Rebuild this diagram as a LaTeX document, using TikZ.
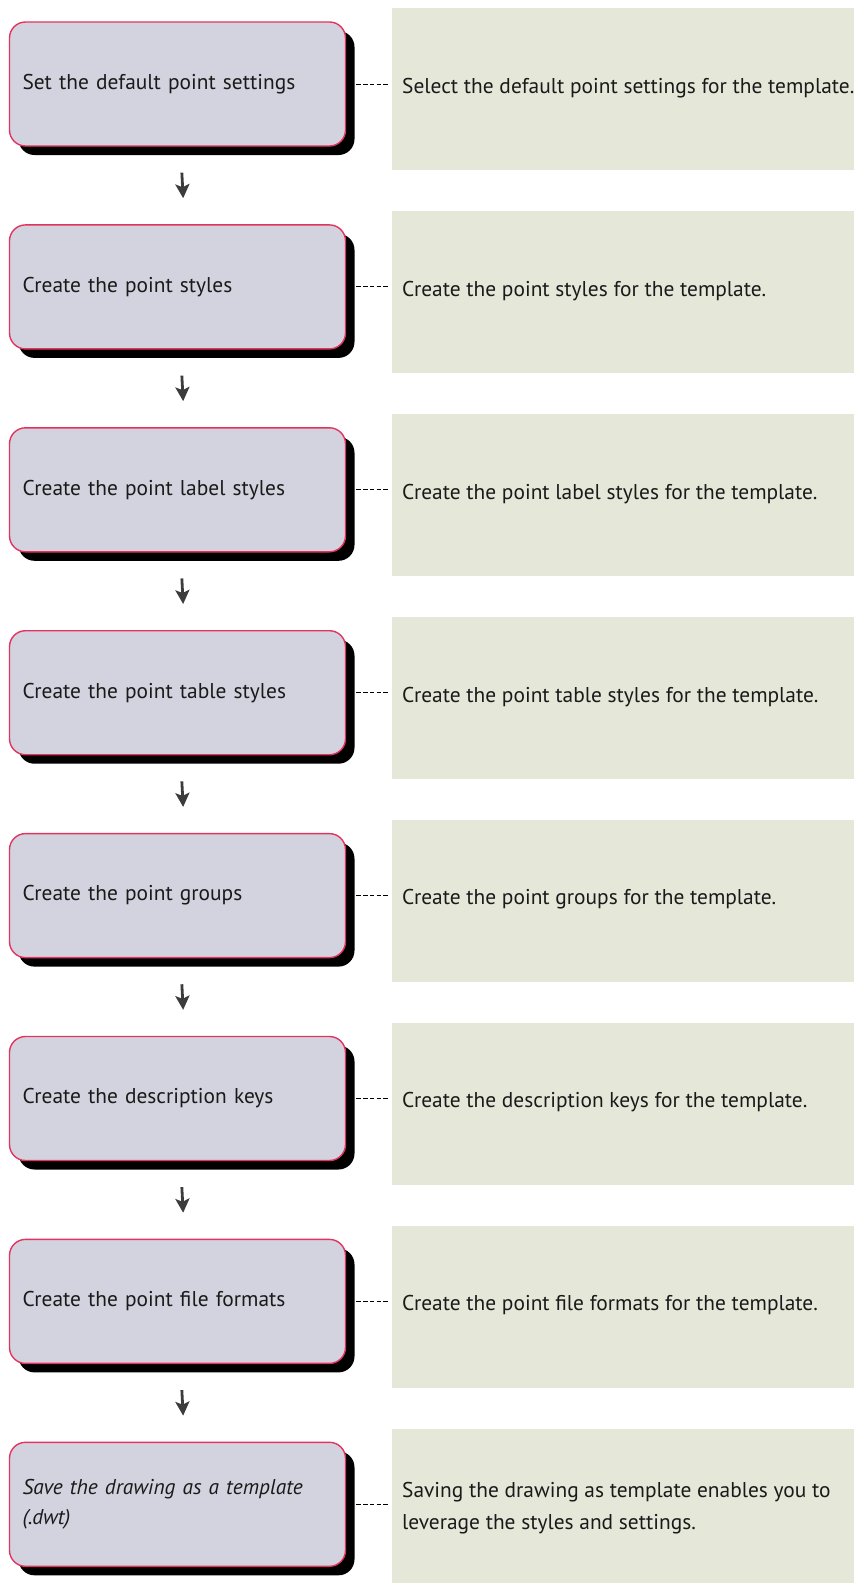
\documentclass[tikz,border=0pt]{standalone}
\usepackage{fontspec}
\setmainfont{PT Sans}
\usetikzlibrary{arrows.meta,shadows}
\definecolor{boxfill}{HTML}{D3D3DF}
\definecolor{boxline}{HTML}{E2345E}
\definecolor{panelfill}{HTML}{E5E8D9}
\definecolor{arrowcol}{HTML}{3C3C3C}
\definecolor{textcol}{HTML}{1A1A1A}
\begin{document}
\begin{tikzpicture}[x=1pt,y=-1pt,
  stepbox/.style={draw=boxline, line width=1.4pt, fill=boxfill, rounded corners=16pt,
    minimum width=336pt, minimum height=124pt, text width=310pt, inner xsep=13pt,
    align=left, font=\fontsize{21.4}{29.5}\selectfont, text=textcol,
    general shadow={fill=black, shadow xshift=9pt, shadow yshift=-9pt}},
  panel/.style={fill=panelfill, minimum width=462pt, minimum height=162pt, inner sep=0pt, anchor=north west},
  desc/.style={anchor=west, align=left, inner sep=0pt, font=\fontsize{21.4}{31.5}\selectfont, text=textcol},
  link/.style={dash pattern=on 4.5pt off 2.3pt, line width=1pt, shorten >=3pt},
  flow/.style={arrowcol, line width=2.8pt, -{Stealth[width=14pt,length=14pt,inset=3pt]},
    shorten <=26pt, shorten >=26pt}]
\useasboundingbox (0,0) rectangle (854,1583);
\def\stp{202.9}
% panels
\foreach \i in {0,...,7}{
  \node[panel] (p\i) at (392,{8+\stp*\i}) {};
}
% boxes
\node[stepbox] (b0) at (177.5,84) {Set the default point settings};
\node[stepbox] (b1) at (177.5,{84+\stp}) {Create the point styles};
\node[stepbox] (b2) at (177.5,{84+2*\stp}) {Create the point label styles};
\node[stepbox] (b3) at (177.5,{84+3*\stp}) {Create the point table styles};
\node[stepbox] (b4) at (177.5,{84+4*\stp}) {Create the point groups};
\node[stepbox] (b5) at (177.5,{84+5*\stp}) {Create the description keys};
\node[stepbox] (b6) at (177.5,{84+6*\stp}) {Create the point file formats};
\node[stepbox] (b7) at (177.5,{84+7*\stp}) {\itshape Save the drawing as a template\\\itshape (.dwt)};
% descriptions
\node[desc] (t0) at (402,{88}) {Select the default point settings for the template.};
\node[desc] (t1) at (402,{88+\stp}) {Create the point styles for the template.};
\node[desc] (t2) at (402,{88+2*\stp}) {Create the point label styles for the template.};
\node[desc] (t3) at (402,{88+3*\stp}) {Create the point table styles for the template.};
\node[desc] (t4) at (402,{88+4*\stp}) {Create the point groups for the template.};
\node[desc] (t5) at (402,{88+5*\stp}) {Create the description keys for the template.};
\node[desc] (t6) at (402,{88+6*\stp}) {Create the point file formats for the template.};
\node[desc] (t7) at (402,{88+7*\stp}) {Saving the drawing as template enables you to\\leverage the styles and settings.};
% dashed links
\foreach \i in {0,...,7}{
  \draw[link] ([xshift=10pt]b\i.east) -- (p\i.west |- b\i.east);
}
% arrows
\foreach \i/\j in {0/1,1/2,2/3,3/4,4/5,5/6,6/7}{
  \draw[flow] ([xshift=3pt]b\i.south) -- ([xshift=7pt]b\j.north);
}
\end{tikzpicture}
\end{document}
